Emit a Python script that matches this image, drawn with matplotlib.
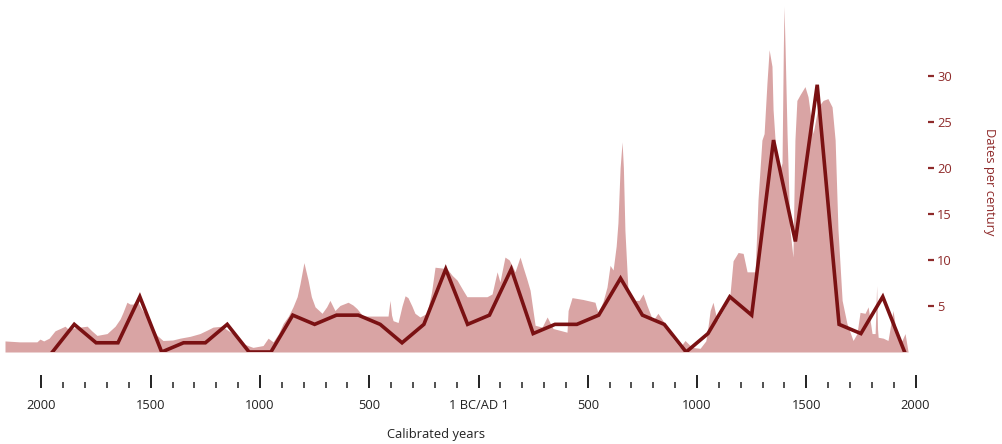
import matplotlib
matplotlib.use("Agg")
import matplotlib.pyplot as plt
from matplotlib.ticker import FixedLocator

# dates per century (century midpoints, negative = BC)
century_mid = [-1950, -1850, -1750, -1650, -1550, -1450, -1350, -1250, -1150, -1050,
               -950, -850, -750, -650, -550, -450, -350, -250, -150, -50,
               50, 150, 250, 350, 450, 550, 650, 750, 850, 950,
               1050, 1150, 1250, 1350, 1450, 1550, 1650, 1750, 1850, 1950]
dates_per_century = [0, 3, 1, 1, 6, 0, 1, 1, 3, 0,
                     0, 4, 3, 4, 4, 3, 1, 3, 9, 3,
                     4, 9, 2, 3, 3, 4, 8, 4, 3, 0,
                     2, 6, 4, 23, 12, 29, 3, 2, 6, 0]

# summed probability envelope (shaded area)
spd_years = [-2167, -2100, -2021, -2007, -1990, -1965, -1938, -1910, -1892, -1879,
             -1855, -1824, -1791, -1770, -1746, -1700, -1663, -1640, -1627, -1609,
             -1595, -1581, -1563, -1540, -1517, -1490, -1471, -1444, -1400, -1366,
             -1320, -1275, -1240, -1215, -1174, -1150, -1124, -1100, -1078, -1032,
             -986, -963, -940, -915, -894, -870, -849, -830, -817, -799,
             -780, -765, -748, -716, -695, -680, -657, -634, -597, -575,
             -556, -529, -437, -414, -405, -398, -391, -368, -350, -336,
             -323, -305, -291, -268, -236, -215, -199, -162, -140, -120,
             -98, -71, -53, 39, 62, 85, 98, 121, 140, 153,
             167, 190, 204, 220, 236, 259, 291, 314, 341, 405,
             410, 428, 478, 533, 547, 570, 588, 602, 616, 630,
             638, 648, 657, 663, 670, 684, 716, 735, 753, 771,
             798, 821, 844, 865, 885, 922, 945, 977, 1014, 1040,
             1046, 1060, 1073, 1092, 1128, 1151, 1165, 1188, 1211, 1229,
             1266, 1279, 1297, 1307, 1320, 1330, 1343, 1348, 1360, 1375,
             1389, 1395, 1398, 1403, 1412, 1425, 1439, 1448, 1457, 1471,
             1494, 1508, 1531, 1554, 1577, 1599, 1618, 1632, 1645, 1664,
             1686, 1714, 1732, 1746, 1769, 1783, 1801, 1815, 1822, 1826,
             1829, 1852, 1874, 1897, 1915, 1938, 1952, 1966]
spd_values = [1.2, 1.1, 1.1, 1.4, 1.2, 1.5, 2.3, 2.6, 2.8, 2.5,
              2.6, 2.7, 2.8, 2.3, 1.8, 2.0, 2.8, 3.6, 4.3, 5.4,
              5.2, 5.2, 5.6, 4.6, 3.8, 2.6, 1.8, 1.25, 1.3, 1.5,
              1.7, 2.0, 2.4, 2.7, 2.8, 2.4, 2.0, 1.4, 0.9, 0.5,
              0.7, 1.5, 1.1, 2.0, 3.1, 3.9, 4.9, 6.0, 7.4, 9.7,
              7.8, 6.0, 4.9, 4.2, 4.9, 5.6, 4.5, 5.05, 5.4, 5.1,
              4.7, 3.9, 3.9, 3.9, 5.6, 4.0, 3.4, 3.2, 5.0, 6.1,
              5.9, 5.0, 4.2, 3.8, 4.2, 6.5, 9.2, 9.1, 8.9, 8.3,
              7.8, 6.7, 6.0, 6.0, 6.3, 8.7, 7.6, 10.3, 10.0, 9.4,
              8.7, 10.3, 9.2, 8.0, 6.7, 2.9, 2.7, 3.8, 2.55, 2.15,
              4.5, 5.9, 5.7, 5.4, 4.2, 5.5, 7.05, 9.4, 8.9, 11.5,
              14.0, 20.0, 22.8, 20.0, 13.2, 6.7, 5.6, 5.6, 6.3, 5.05,
              3.4, 4.2, 3.4, 2.4, 1.6, 0.5, 1.25, 0.5, 0.4, 1.2,
              2.0, 4.5, 5.4, 3.4, 4.9, 6.3, 9.9, 10.8, 10.7, 8.7,
              8.7, 16.5, 23.0, 23.7, 29.2, 32.8, 31.0, 26.3, 22.0, 19.5,
              20.5, 33.0, 37.5, 33.0, 23.7, 13.3, 10.3, 23.0, 27.3, 27.9,
              28.8, 27.7, 23.7, 26.6, 27.3, 27.5, 26.6, 23.0, 13.3, 5.6,
              3.1, 1.25, 2.0, 4.3, 4.2, 4.9, 2.0, 2.0, 7.2, 2.5,
              1.6, 1.5, 1.25, 4.5, 1.6, 1.25, 2.0, 0.0]

x_ticks = [-2000, -1500, -1000, -500, 0, 500, 1000, 1500, 2000]
x_tick_labels = ["2000", "1500", "1000", "500", "1 BC/AD 1", "500", "1000", "1500", "2000"]
x_minor = [y for y in range(-1900, 2000, 100) if y % 500 != 0]
y_ticks = [5, 10, 15, 20, 25, 30]

fill_col = "#d9a4a4"
line_col = "#7a1113"
axis_red = "#8e2a2a"

plt.rcParams["font.family"] = ["Open Sans", "DejaVu Sans"]

fig = plt.figure(figsize=(10.03, 4.44), dpi=100)
ax = fig.add_axes([5 / 1003, 92 / 444, 923 / 1003, 352 / 444])

ax.fill_between(spd_years, spd_values, 0, color=fill_col, lw=0)
ax.plot(century_mid, dates_per_century, color=line_col, lw=2.6, solid_joinstyle="miter")

ax.set_xlim(-2167, 2057)
ax.set_ylim(0, 38.2)

for s in ax.spines.values():
    s.set_visible(False)

# x axis: ticks hanging below the plot
ax.spines["bottom"].set_position(("outward", 26))
ax.xaxis.set_major_locator(FixedLocator(x_ticks))
ax.xaxis.set_minor_locator(FixedLocator(x_minor))
ax.set_xticklabels(x_tick_labels)
ax.tick_params(axis="x", which="major", direction="in", length=9.4, width=1.4,
               color="#222222", labelsize=9.3, pad=8, labelcolor="#222222")
ax.tick_params(axis="x", which="minor", direction="in", length=4.3, width=1.1,
               color="#222222")

# y axis on the right
ax.yaxis.tick_right()
ax.set_yticks(y_ticks)
ax.tick_params(axis="y", direction="out", length=4.5, width=1.6, color=axis_red,
               labelcolor=axis_red, labelsize=9.3, pad=2)

fig.text(436 / 1003, 1 - 434 / 444, "Calibrated years", ha="center", va="center",
         fontsize=9.3, color="#222222")
fig.text(990 / 1003, 1 - 182 / 444, "Dates per century", ha="center", va="center",
         rotation=270, fontsize=9.3, color=axis_red)

fig.savefig("out.png", dpi=100)
